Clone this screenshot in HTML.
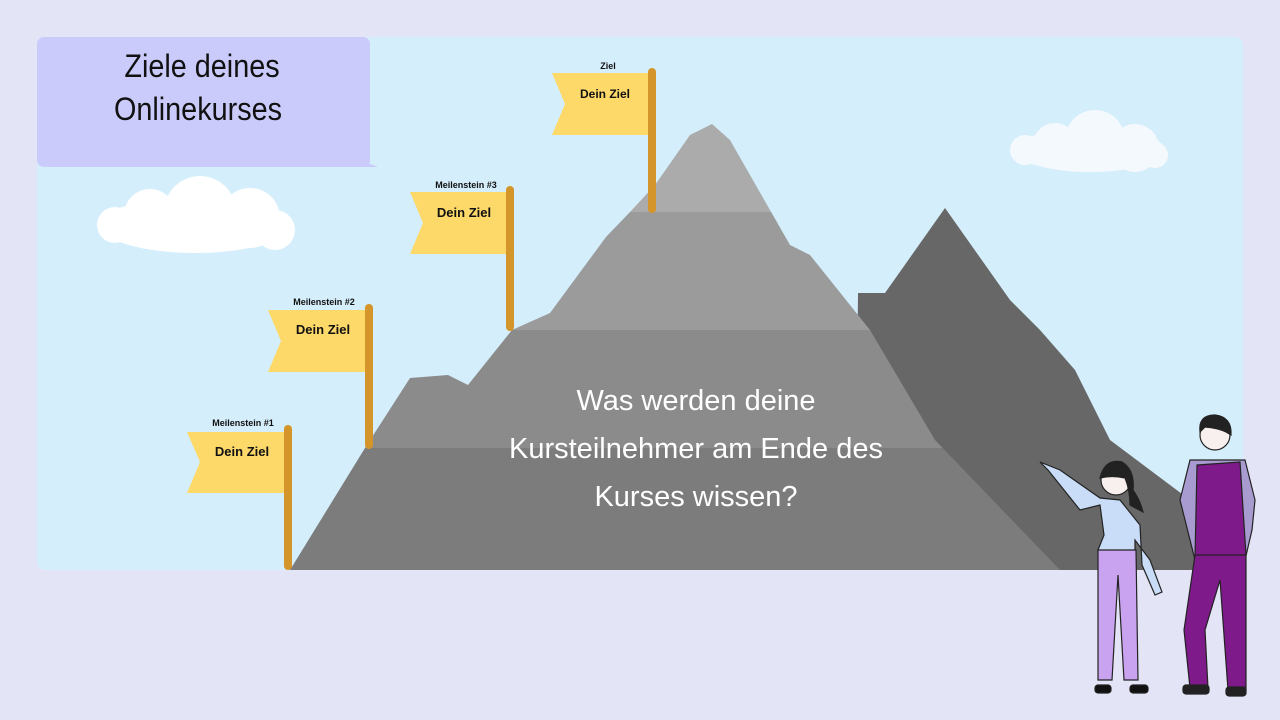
<!DOCTYPE html>
<html><head><meta charset="utf-8"><style>
html,body{margin:0;padding:0;width:1280px;height:720px;overflow:hidden;background:#e4e4f7}
svg{display:block}
text{font-family:"Liberation Sans",sans-serif}
</style></head><body>
<svg width="1280" height="720" viewBox="0 0 1280 720">
<defs>
<clipPath id="mc"><polygon points="290,570 365,448 410,378 448,375 468,385 512,330 550,313 606,237 630,212 655,185 690,135 712,124 730,140 770,210 790,245 810,255 870,330 935,440 1060,570"/></clipPath>
</defs>
<rect x="37" y="37" width="1206" height="533" rx="8" fill="#d4eefb"/>
<!-- clouds -->
<g fill="#fff">
<ellipse cx="195" cy="225" rx="95" ry="28"/><circle cx="200" cy="212" r="36"/><circle cx="150" cy="215" r="26"/><circle cx="250" cy="218" r="30"/><circle cx="115" cy="225" r="18"/><circle cx="275" cy="230" r="20"/>
</g>
<g fill="#f4f9fd">
<ellipse cx="1090" cy="150" rx="75" ry="22"/><circle cx="1095" cy="140" r="30"/><circle cx="1055" cy="145" r="22"/><circle cx="1135" cy="148" r="24"/><circle cx="1025" cy="150" r="15"/><circle cx="1155" cy="155" r="13"/>
</g>
<!-- dark mountain -->
<polygon points="855,570 858,293 885,293 945,208 1010,300 1040,330 1075,370 1110,440 1190,500 1200,570" fill="#676767"/>
<!-- main mountain -->
<g clip-path="url(#mc)">
<rect x="280" y="448" width="800" height="130" fill="#7c7c7c"/>
<rect x="280" y="330" width="800" height="118" fill="#8b8b8b"/>
<rect x="280" y="212" width="800" height="118" fill="#9b9b9b"/>
<rect x="280" y="100" width="800" height="112" fill="#ababab"/>
</g>
<!-- title box -->
<rect x="37" y="37" width="333" height="130" rx="7" fill="#cbcbfb"/>
<polygon points="360,160 378,167 360,167" fill="#cbcbfb"/>
<text x="202" y="77" font-size="32" text-anchor="middle" fill="#111" transform="translate(202 0) scale(0.9 1) translate(-202 0)">Ziele deines</text>
<text x="198" y="120" font-size="32" text-anchor="middle" fill="#111" transform="translate(198 0) scale(0.9 1) translate(-198 0)">Onlinekurses</text>
<!-- flags -->
<g font-weight="bold" fill="#111" text-anchor="middle">
<polygon points="187,432 284,432 284,493 187,493 200,462" fill="#fdd96a"/>
<rect x="284" y="425" width="8" height="145" rx="4" fill="#d4952a"/>
<text x="242" y="456" font-size="13">Dein Ziel</text>
<text x="243" y="426" font-size="9">Meilenstein #1</text>

<polygon points="268,310 365,310 365,372 268,372 281,341" fill="#fdd96a"/>
<rect x="365" y="304" width="8" height="145" rx="4" fill="#d4952a"/>
<text x="323" y="334" font-size="13">Dein Ziel</text>
<text x="324" y="305" font-size="9">Meilenstein #2</text>

<polygon points="410,192 507,192 507,254 410,254 423,223" fill="#fdd96a"/>
<rect x="506" y="186" width="8" height="145" rx="4" fill="#d4952a"/>
<text x="464" y="217" font-size="13">Dein Ziel</text>
<text x="466" y="188" font-size="9">Meilenstein #3</text>

<polygon points="552,73 648,73 648,135 552,135 565,104" fill="#fdd96a"/>
<rect x="648" y="68" width="8" height="145" rx="4" fill="#d4952a"/>
<text x="605" y="98" font-size="12">Dein Ziel</text>
<text x="608" y="69" font-size="9">Ziel</text>
</g>
<!-- main text -->
<g fill="#fff" font-size="29" text-anchor="middle">
<text x="696" y="410">Was werden deine</text>
<text x="696" y="458">Kursteilnehmer am Ende des</text>
<text x="696" y="506">Kurses wissen?</text>
</g>
<!-- woman -->
<g stroke="#222" stroke-width="1.2">
<path d="M1040,462 L1048,470 L1080,510 L1100,505 L1104,535 L1098,550 L1135,552 L1135,540 L1150,560 L1162,592 L1155,595 L1142,565 L1140,525 L1120,500 L1100,498 L1060,470 Z" fill="#c9ddf8"/>
<path d="M1098,550 L1098,680 L1112,680 L1118,575 L1124,680 L1138,680 L1136,550 Z" fill="#c9a3f0"/>
<circle cx="1116" cy="480" r="15" fill="#f8f0ee"/>
<path d="M1100,478 Q1105,458 1122,462 Q1135,470 1133,490 Q1140,500 1143,512 L1130,505 Q1130,490 1125,478 Q1112,475 1100,478 Z" fill="#222"/>
<rect x="1095" y="685" width="16" height="8" rx="3" fill="#111"/><rect x="1130" y="685" width="18" height="8" rx="3" fill="#111"/>
</g>
<!-- man -->
<g stroke="#222" stroke-width="1.2">
<path d="M1190,460 L1245,460 L1255,500 L1252,530 L1245,560 L1195,560 L1185,520 L1180,500 Z" fill="#a89bd0"/>
<path d="M1197,465 L1240,462 L1246,555 L1195,558 Z" fill="#7e1a8a"/>
<path d="M1195,555 L1184,630 L1190,688 L1208,688 L1205,630 L1220,580 L1228,690 L1246,690 L1246,555 Z" fill="#7e1a8a"/>
<circle cx="1215" cy="435" r="15" fill="#f8f0ee"/>
<path d="M1200,432 Q1198,415 1215,415 Q1232,417 1231,435 L1226,432 Q1218,428 1205,427 Z" fill="#222"/>
<rect x="1183" y="685" width="26" height="9" rx="3" fill="#222"/><rect x="1226" y="687" width="20" height="9" rx="3" fill="#222"/>
</g>
</svg>
</body></html>
